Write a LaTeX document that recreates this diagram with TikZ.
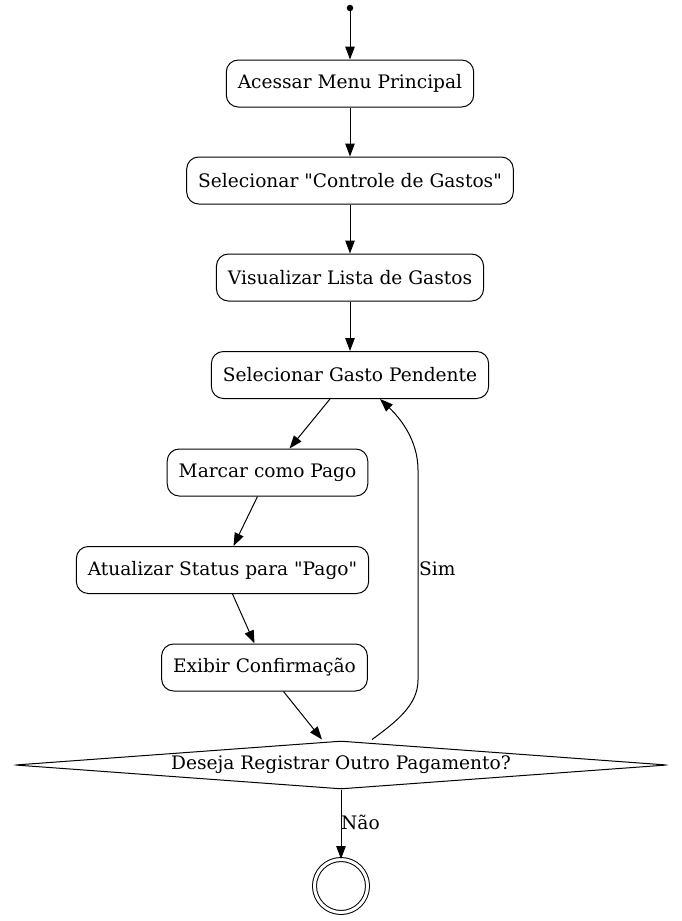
\documentclass[tikz,border=0pt]{standalone}
\usepackage{fontspec}
\setmainfont{DejaVu Serif}
\usetikzlibrary{shapes.geometric,arrows.meta,calc}
\begin{document}
\begin{tikzpicture}[x=1pt,y=-1pt,
  every node/.style={font=\fontsize{18.6}{21}\selectfont},
  act/.style={draw,rounded corners=12pt,minimum height=47pt,inner xsep=11.5pt,line width=1pt},
  arr/.style={-{Triangle[length=13pt,width=9.5pt]},line width=1pt},
  lbl/.style={font=\fontsize{18.6}{21}\selectfont,inner sep=1pt}]
\useasboundingbox (0,0) rectangle (682,921);
\node[circle,fill,inner sep=0pt,minimum size=6.5pt] (start) at (350,8) {};
\node[act] (n1) at (350,83.5) {Acessar Menu Principal};
\node[act] (n2) at (350,180.5) {Selecionar \textquotedbl Controle de Gastos\textquotedbl};
\node[act] (n3) at (350,277.5) {Visualizar Lista de Gastos};
\node[act] (n4) at (350,375) {Selecionar Gasto Pendente};
\node[act] (n5) at (267.5,472.5) {Marcar como Pago};
\node[act] (n6) at (222.5,570) {Atualizar Status para \textquotedbl Pago\textquotedbl};
\node[act] (n7) at (264.5,667.5) {Exibir Confirmação};
\node[diamond,draw,line width=1pt,aspect=13.6,inner sep=0pt,minimum width=652pt,minimum height=48pt,rounded corners=2pt] (dec) at (341,765) {Deseja Registrar Outro Pagamento?};
\node[circle,draw,double,double distance=3pt,line width=1pt,minimum size=53pt,inner sep=0pt] (end) at (341,886) {};
\draw[arr] (start) -- (n1);
\draw[arr] (n1) -- (n2);
\draw[arr] (n2) -- (n3);
\draw[arr] (n3) -- (n4);
\draw[arr] ($(n4.south)+(-20,0)$) -- ($(n5.north)+(22,0)$);
\draw[arr] ($(n5.south)+(-10,0)$) -- ($(n6.north)+(11,0)$);
\draw[arr] ($(n6.south)+(10,0)$) -- ($(n7.north)+(-10,0)$);
\draw[arr] ($(n7.south)+(19,0)$) -- ($(dec.north)+(-19,-1)$);
\draw[arr] ($(dec.north)+(31,-1)$) .. controls (396,722) and (418,705) .. (418,680)
  -- (418,470) .. controls (418,440) and (400,418) .. ($(n4.south)+(30,0)$);
\node[lbl,anchor=west] (sim) at (418,569) {Sim};
\draw[arr] (dec.south) -- (end.north);
\node[lbl,anchor=west] (nao) at (340,822) {Não};
\end{tikzpicture}
\end{document}
